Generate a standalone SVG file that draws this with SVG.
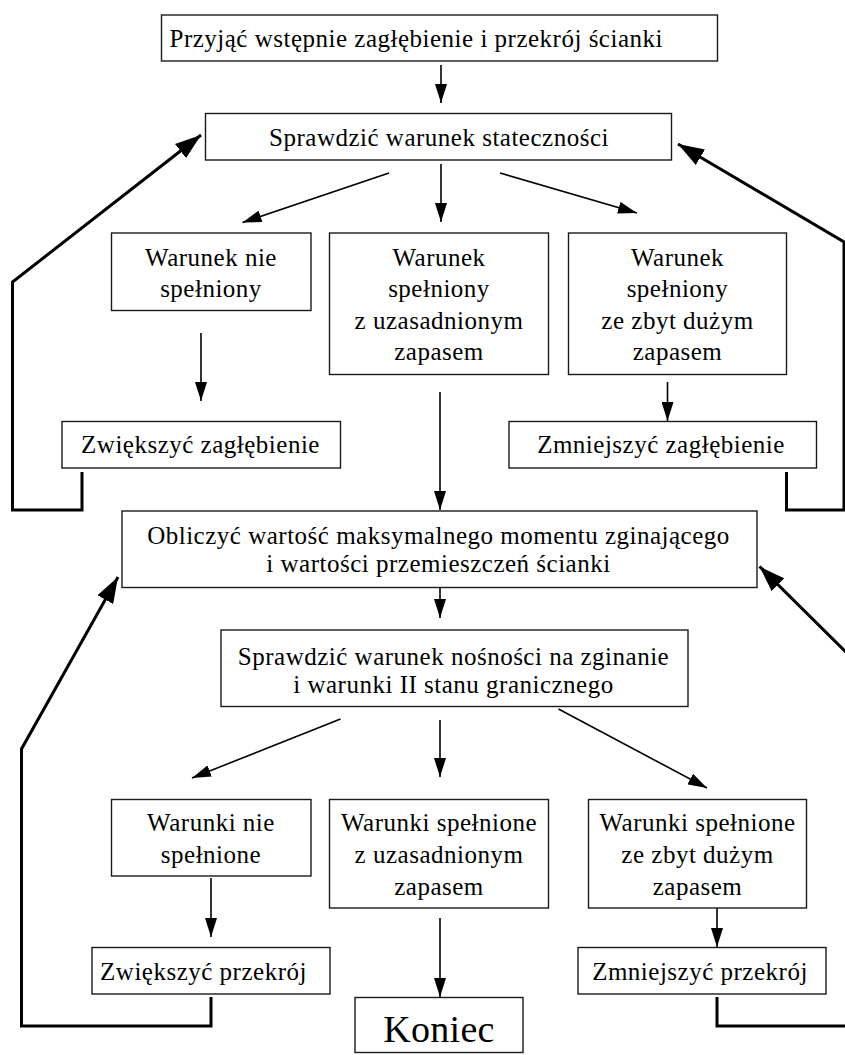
<svg xmlns="http://www.w3.org/2000/svg" width="845" height="1055" viewBox="0 0 845 1055" font-family="'Liberation Serif', serif">
  <style>
    .box { fill: #ffffff; stroke: #1a1a1a; stroke-width: 1.4; }
    text { font-family: 'Liberation Serif', serif; }
    .t { font-family: 'Liberation Serif', serif; font-size: 25px; letter-spacing: 0.5px; fill: #000; text-anchor: middle; }
    .big { font-size: 38px; letter-spacing: 0.3px; }
    .thin { fill: none; stroke: #000; stroke-width: 1.6; marker-end: url(#ah); }
    .thick { fill: none; stroke: #000; stroke-width: 3; stroke-linejoin: miter; marker-end: url(#ahb); }
  </style>
  <defs>
    <marker id="ah" markerUnits="userSpaceOnUse" markerWidth="20" markerHeight="12" refX="19" refY="6" orient="auto">
      <path d="M0,0 L19,6 L0,12 z" fill="#000"/>
    </marker>
    <marker id="ahb" markerUnits="userSpaceOnUse" markerWidth="27" markerHeight="18" refX="26" refY="9" orient="auto">
      <path d="M0,0 L26,9 L0,18 z" fill="#000"/>
    </marker>
  </defs>

  <rect width="845" height="1055" fill="#ffffff"/>

  <!-- connectors -->
  <g id="connectors">
    <path class="thin" d="M441,65 L441,103"/>
    <path class="thin" d="M389,173 L242.5,222.5"/>
    <path class="thin" d="M441,164 L441,222"/>
    <path class="thin" d="M500,173 L637,213"/>
    <path class="thin" d="M201,333 L201,401"/>
    <path class="thin" d="M440,392 L440,510"/>
    <path class="thin" d="M667.5,382 L667.5,421"/>
    <path class="thin" d="M440,582 L440,618"/>
    <path class="thin" d="M340.5,719 L192,778"/>
    <path class="thin" d="M440,720 L440,777"/>
    <path class="thin" d="M558.5,709 L707,788"/>
    <path class="thin" d="M211,878 L211,937"/>
    <path class="thin" d="M440,918 L440,997"/>
    <path class="thin" d="M717,908 L717,947"/>

    <!-- feedback loops -->
    <path class="thick" d="M82,472 L82,510 L12.5,510 L12.5,282 L201,135"/>
    <path class="thick" d="M786.5,472 L786.5,510 L844,510 L844,242 L678,144"/>
    <path class="thick" d="M211,997 L211,1026 L21.5,1026 L21.5,749 L118,577"/>
    <path class="thick" d="M717,997 L717,1026 L870,1026 L870,676 L759.5,566.5"/>
  </g>

  <g id="n-start">
    <rect class="box" x="161.5" y="15" width="556" height="46"/>
    <text class="t" x="169.5" y="47" style="text-anchor:start">Przyjąć wstępnie zagłębienie i przekrój ścianki</text>
  </g>

  <g id="n-stability">
    <rect class="box" x="205.5" y="113.5" width="466" height="46.5"/>
    <text class="t" x="439" y="146">Sprawdzić warunek stateczności</text>
  </g>

  <g id="n-s-fail">
    <rect class="box" x="111.5" y="233" width="199.5" height="77.5"/>
    <text class="t" x="211" y="266">Warunek nie</text>
    <text class="t" x="211" y="297">spełniony</text>
  </g>

  <g id="n-s-ok">
    <rect class="box" x="329.5" y="233" width="219" height="141.5"/>
    <text class="t" x="439" y="266">Warunek</text>
    <text class="t" x="439" y="297">spełniony</text>
    <text class="t" x="439" y="329">z uzasadnionym</text>
    <text class="t" x="439" y="360">zapasem</text>
  </g>

  <g id="n-s-excess">
    <rect class="box" x="568.5" y="233" width="218" height="141.5"/>
    <text class="t" x="677.5" y="266">Warunek</text>
    <text class="t" x="677.5" y="297">spełniony</text>
    <text class="t" x="677.5" y="329">ze zbyt dużym</text>
    <text class="t" x="677.5" y="360">zapasem</text>
  </g>

  <g id="n-depth-up">
    <rect class="box" x="62" y="421.5" width="278.5" height="46.5"/>
    <text class="t" x="200.5" y="453">Zwiększyć zagłębienie</text>
  </g>

  <g id="n-depth-down">
    <rect class="box" x="509" y="421.5" width="307.5" height="46.5"/>
    <text class="t" x="661" y="453">Zmniejszyć zagłębienie</text>
  </g>

  <g id="n-moment">
    <rect class="box" x="122" y="511" width="635" height="76.5"/>
    <text class="t" x="438.5" y="544">Obliczyć wartość maksymalnego momentu zginającego</text>
    <text class="t" x="438.5" y="571.5">i wartości przemieszczeń ścianki</text>
  </g>

  <g id="n-capacity">
    <rect class="box" x="221" y="630" width="467" height="76.5"/>
    <text class="t" x="453.5" y="665">Sprawdzić warunek nośności na zginanie</text>
    <text class="t" x="453.5" y="693">i warunki II stanu granicznego</text>
  </g>

  <g id="n-c-fail">
    <rect class="box" x="111.5" y="799.5" width="199.5" height="76.5"/>
    <text class="t" x="211" y="831">Warunki nie</text>
    <text class="t" x="211" y="863">spełnione</text>
  </g>

  <g id="n-c-ok">
    <rect class="box" x="329.5" y="799.5" width="219" height="108.5"/>
    <text class="t" x="439" y="831">Warunki spełnione</text>
    <text class="t" x="439" y="863">z uzasadnionym</text>
    <text class="t" x="439" y="895">zapasem</text>
  </g>

  <g id="n-c-excess">
    <rect class="box" x="588.5" y="799.5" width="218" height="108.5"/>
    <text class="t" x="697.5" y="831">Warunki spełnione</text>
    <text class="t" x="697.5" y="863">ze zbyt dużym</text>
    <text class="t" x="697.5" y="895">zapasem</text>
  </g>

  <g id="n-section-up">
    <rect class="box" x="92" y="947.5" width="238" height="46.5"/>
    <text class="t" x="203.5" y="980">Zwiększyć przekrój</text>
  </g>

  <g id="n-end">
    <rect class="box" x="355" y="997.5" width="168" height="55"/>
    <text class="t big" x="439" y="1041.5">Koniec</text>
  </g>

  <g id="n-section-down">
    <rect class="box" x="578" y="947.5" width="248" height="46.5"/>
    <text class="t" x="700" y="980">Zmniejszyć przekrój</text>
  </g>
</svg>
